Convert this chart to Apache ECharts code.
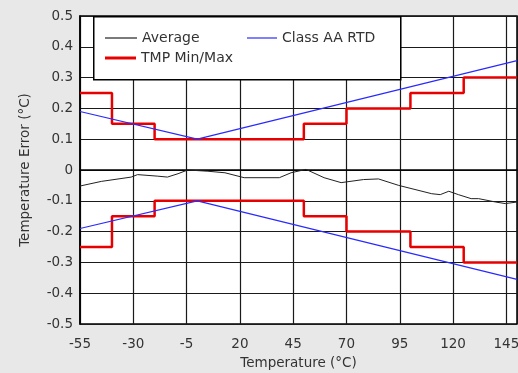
<!DOCTYPE html>
<html><head><meta charset="utf-8">
<script src="https://cdn.jsdelivr.net/npm/echarts@6/dist/echarts.min.js"></script>
<style>html,body{margin:0;padding:0;background:#e8e8e8}#c{width:518px;height:373px}</style>
</head><body><div id="c"></div>
<script>
// Data (temperature in °C, error in °C)
const xTickLabels = [-55, -30, -5, 20, 45, 70, 95, 120, 145];
const avgT = [-55, -45, -31, -28, -18.5, -14, -9, -4.5, 5, 13, 22, 38.5, 44, 51, 59.5, 67.5, 78, 85, 94.5, 110, 114, 118, 122.5, 128.5, 132, 140, 144.5, 150];
const avgV = [-0.052, -0.037, -0.023, -0.015, -0.02, -0.023, -0.012, 0, -0.004, -0.009, -0.025, -0.025, -0.009, 0.002, -0.025, -0.041, -0.031, -0.029, -0.05, -0.077, -0.08, -0.069, -0.08, -0.093, -0.093, -0.104, -0.109, -0.104];
const rtdT = [-55, 0, 150];
const rtdUpper = [0.19, 0.10, 0.355];
const rtdLower = [-0.19, -0.10, -0.355];
const tmpT = [-55, -40, -20, 50, 70, 100, 125, 150];
const tmpUpper = [0.25, 0.15, 0.10, 0.15, 0.20, 0.25, 0.30, 0.30];
const tmpLower = [-0.25, -0.15, -0.10, -0.15, -0.20, -0.25, -0.30, -0.30];

const X0 = -55; // axis origin offset so that ticks fall on -55, -30, ...
const pts = (xs, ys) => xs.map((x, i) => [x - X0, ys[i]]);
const joined = (xs, a, b) => pts(xs, a).concat([[null, null]], pts(xs, b));

const font = 'DejaVu Sans, Arial, sans-serif';
const fs = 13.5;
const legendText = { fontFamily: font, fontSize: 14, color: '#333' };
const mkLegend = (name, left, top, h, w) => ({
  data: [name], left: left, top: top, icon: 'rect', itemWidth: w, itemHeight: h,
  itemGap: 0, padding: 0, z: 5, textStyle: legendText
});
const chart = echarts.init(document.getElementById('c'));
chart.setOption({
  backgroundColor: '#e8e8e8',
  animation: false,
  grid: { left: 80, top: 16, right: 1, bottom: 49, containLabel: false, outerBoundsMode: 'none',
    show: true, backgroundColor: '#fff', borderColor: '#000', borderWidth: 1.5 },
  xAxis: {
    type: 'value', min: 0, max: 150 - X0, interval: 25,
    name: 'Temperature (°C)', nameLocation: 'middle', nameGap: 32,
    nameTextStyle: { fontFamily: font, fontSize: fs, color: '#333' },
    axisLine: { show: true, lineStyle: { color: '#000', width: 1.5 } },
    axisTick: { show: false },
    axisLabel: { margin: 13, fontFamily: font, fontSize: fs, color: '#333', showMaxLabel: false,
      formatter: v => String(Math.round(v + X0)) },
    splitLine: { show: true, lineStyle: { color: '#1a1a1a', width: 1.2 } }
  },
  yAxis: {
    type: 'value', min: -0.5, max: 0.5, interval: 0.1,
    name: 'Temperature Error (°C)', nameLocation: 'middle', nameGap: 48,
    nameTextStyle: { fontFamily: font, fontSize: fs, color: '#333' },
    axisLine: { show: true, lineStyle: { color: '#000', width: 1.5 } },
    axisTick: { show: false },
    axisLabel: { margin: 7, fontFamily: font, fontSize: fs, color: '#333',
      formatter: v => (Math.abs(v) < 1e-9 ? '0' : v.toFixed(1)) },
    splitLine: { show: true, lineStyle: { color: '#1a1a1a', width: 1.2 } }
  },
  graphic: [{
    type: 'rect', left: 93, top: 16, z: 3,
    shape: { width: 307, height: 63 },
    style: { fill: '#fff', stroke: '#000', lineWidth: 1.5 }
  }],
  legend: [
    mkLegend('Average', 105, 31, 1.2, 32),
    mkLegend('Class AA RTD', 247, 31, 1.2, 30),
    mkLegend('TMP Min/Max', 105, 51, 3, 31)
  ],
  series: [
    { name: 'Average', type: 'line', symbol: 'none', data: pts(avgT, avgV),
      lineStyle: { color: '#222', width: 1 }, itemStyle: { color: '#222' }, z: 3 },
    { name: 'Class AA RTD', type: 'line', symbol: 'none', data: joined(rtdT, rtdUpper, rtdLower),
      lineStyle: { color: '#2a2aff', width: 1.2 }, itemStyle: { color: '#2a2aff' }, z: 3 },
    { name: 'TMP Min/Max', type: 'line', symbol: 'none', step: 'end', data: joined(tmpT, tmpUpper, tmpLower),
      lineStyle: { color: '#e80000', width: 2.5 }, itemStyle: { color: '#e80000' }, z: 2 }
  ]
});
</script></body></html>
